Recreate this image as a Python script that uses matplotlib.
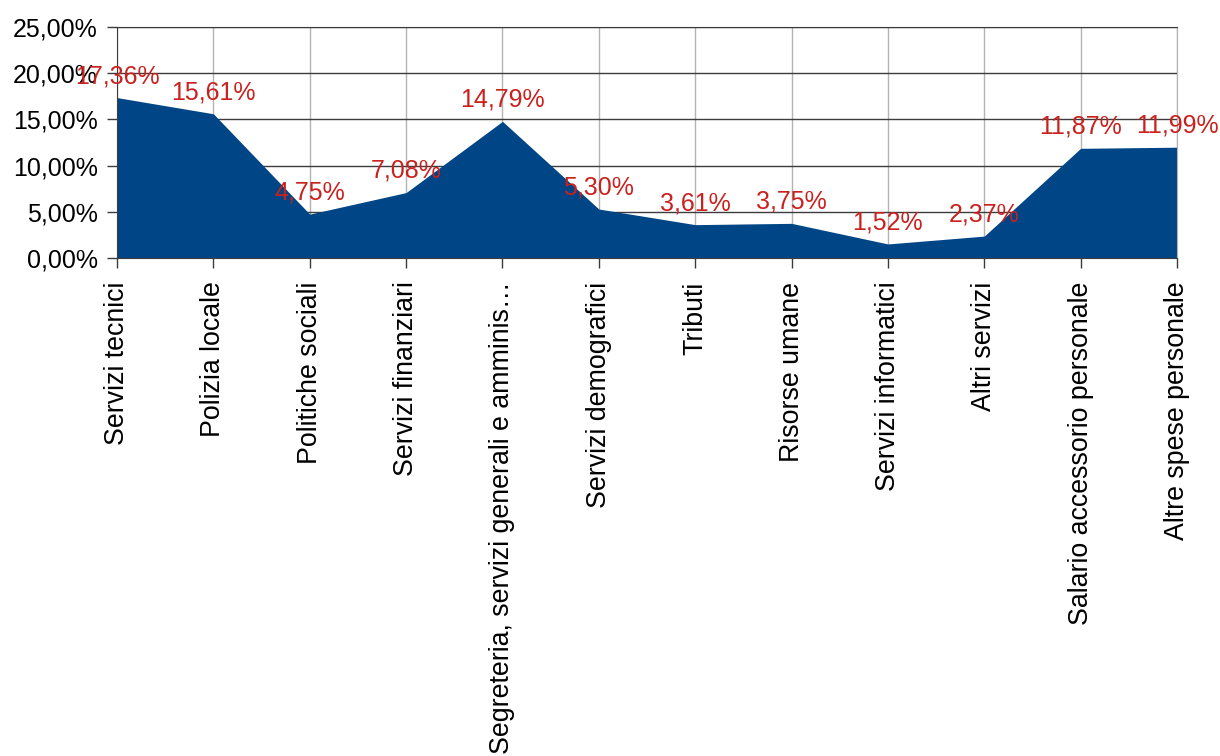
import matplotlib
matplotlib.use("Agg")
import matplotlib.pyplot as plt
from matplotlib.ticker import FuncFormatter, MultipleLocator

categories = [
    "Servizi tecnici", "Polizia locale", "Politiche sociali", "Servizi finanziari",
    "Segreteria, servizi generali e amminis…", "Servizi demografici", "Tributi",
    "Risorse umane", "Servizi informatici", "Altri servizi",
    "Salario accessorio personale", "Altre spese personale",
]
values = [17.36, 15.61, 4.75, 7.08, 14.79, 5.30, 3.61, 3.75, 1.52, 2.37, 11.87, 11.99]

plt.rcParams["font.family"] = ["Liberation Sans", "DejaVu Sans"]

fig = plt.figure(figsize=(12.2, 7.56), dpi=100)
ax = fig.add_axes([117 / 1220, 1 - 258 / 756, 1060 / 1220, 231 / 756])

x = list(range(len(categories)))
ax.fill_between(x, values, 0, color="#004586", linewidth=0, zorder=2)

def pct(v):
    return f"{v:.2f}".replace(".", ",") + "%"

for xi, v in zip(x, values):
    ax.annotate(pct(v), (xi, v), xytext=(0, 10.5), textcoords="offset points",
                ha="center", va="baseline", fontsize=18, color="#c9211e",
                zorder=5, annotation_clip=False)

ax.set_xlim(0, len(categories) - 1)
ax.set_ylim(0, 25)
ax.yaxis.set_major_locator(MultipleLocator(5))
ax.yaxis.set_major_formatter(FuncFormatter(lambda v, p: pct(v)))
ax.set_xticks(x)
ax.set_xticklabels(categories, rotation=90, fontsize=19.3)

ax.set_axisbelow(True)
ax.grid(axis="y", color="#3c3c3c", linewidth=1.0, zorder=0)
ax.grid(axis="x", color="#b3b3b3", linewidth=1.0, zorder=0)

ax.tick_params(axis="y", length=7, width=1, color="#3c3c3c", pad=7, labelsize=18)
ax.tick_params(axis="x", length=7, width=1, color="#3c3c3c", pad=10)

ax.spines["left"].set_color("#3c3c3c")
ax.spines["bottom"].set_color("#3c3c3c")
ax.spines["top"].set_color("#3c3c3c")
ax.spines["right"].set_color("#b3b3b3")

fig.savefig("out.png", dpi=100, facecolor="white")
